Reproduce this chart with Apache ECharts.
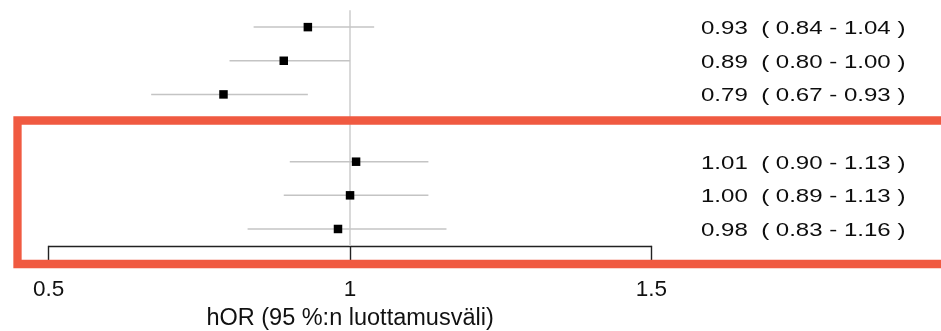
<!DOCTYPE html>
<html>
<head>
<meta charset="utf-8">
<script src="https://cdn.jsdelivr.net/npm/echarts@6/dist/echarts.min.js"></script>
<style>
  html, body { margin: 0; padding: 0; background: #fff; }
  #chart { width: 941px; height: 331px; }
</style>
</head>
<body>
<div id="chart"></div>
<script>
// Row slots on the y axis (slot 3 is the gap between the two groups)
const rowSlots = [0, 1, 2, 4, 5, 6];
// Odds ratios with 95 % confidence limits
const estimates = [0.93, 0.89, 0.79, 1.01, 1.00, 0.98];
const lowerCI   = [0.84, 0.80, 0.67, 0.90, 0.89, 0.83];
const upperCI   = [1.04, 1.00, 0.93, 1.13, 1.13, 1.16];
// Axis
const xTicks = [0.5, 1, 1.5];
const axisTitle = 'hOR (95 %:n luottamusväli)';

const FONT = '"Liberation Sans", Arial, Helvetica, sans-serif';

const fmt = v => v.toFixed(2);
const labelText = i => fmt(estimates[i]) + '  ( ' + fmt(lowerCI[i]) + ' - ' + fmt(upperCI[i]) + ' )';

const ciData = rowSlots.map((r, i) => [lowerCI[i], upperCI[i], r, i]);
const pointData = rowSlots.map((r, i) => [estimates[i], r]);

const chart = echarts.init(document.getElementById('chart'), null, { renderer: 'canvas' });

chart.setOption({
  animation: false,
  backgroundColor: '#ffffff',
  grid: {
    left: 48.7, right: 289.6, top: 10.3, bottom: 85.2,
    containLabel: false,
    outerBoundsMode: 'none'
  },
  xAxis: {
    type: 'value',
    min: xTicks[0],
    max: xTicks[xTicks.length - 1],
    interval: xTicks[1] - xTicks[0],
    name: axisTitle,
    nameLocation: 'middle',
    nameGap: 58.5,
    nameTextStyle: { fontFamily: FONT, fontSize: 23.5, color: '#111', lineHeight: 24 },
    axisLine: { show: true, onZero: false, lineStyle: { color: '#222', width: 1.4 } },
    axisTick: { show: true, inside: false, length: 18, lineStyle: { color: '#222', width: 1.4 } },
    axisLabel: { fontFamily: FONT, fontSize: 22.5, color: '#111', margin: 32.5, lineHeight: 23 },
    splitLine: { show: false }
  },
  yAxis: {
    type: 'value',
    inverse: true,
    min: -0.5,
    max: 6.5,
    show: false,
    splitLine: { show: false }
  },
  series: [
    {
      // Confidence interval whiskers and the estimate text column
      type: 'custom',
      clip: false,
      z: 2,
      data: ciData,
      renderItem: function (params, api) {
        const lo = api.coord([api.value(0), api.value(2)]);
        const hi = api.coord([api.value(1), api.value(2)]);
        const idx = api.value(3);
        return {
          type: 'group',
          children: [
            {
              type: 'line',
              shape: { x1: lo[0], y1: lo[1], x2: hi[0], y2: hi[1] },
              style: { stroke: '#c4c4c4', lineWidth: 1.5 }
            },
            {
              type: 'text',
              x: 701,
              y: lo[1] + 1.7,
              scaleX: 1.265,
              style: {
                text: labelText(idx),
                fontFamily: FONT,
                fontSize: 19,
                fill: '#0d0d0d',
                textAlign: 'left',
                textVerticalAlign: 'middle'
              }
            }
          ]
        };
      },
      markLine: {
        silent: true,
        symbol: 'none',
        label: { show: false },
        lineStyle: { color: '#d9d9d9', width: 2, type: 'solid' },
        data: [{ xAxis: 1 }],
        z: 1
      }
    },
    {
      // Point estimates
      type: 'scatter',
      z: 3,
      symbol: 'rect',
      symbolSize: 8.5,
      itemStyle: { color: '#000', opacity: 1 },
      data: pointData
    }
  ],
  graphic: [
    {
      type: 'rect',
      z: 100,
      silent: true,
      shape: { x: 17.5, y: 120.5, width: 1000, height: 143.5 },
      style: { fill: 'none', stroke: '#F05A41', lineWidth: 8.3 }
    }
  ]
});
</script>
</body>
</html>
